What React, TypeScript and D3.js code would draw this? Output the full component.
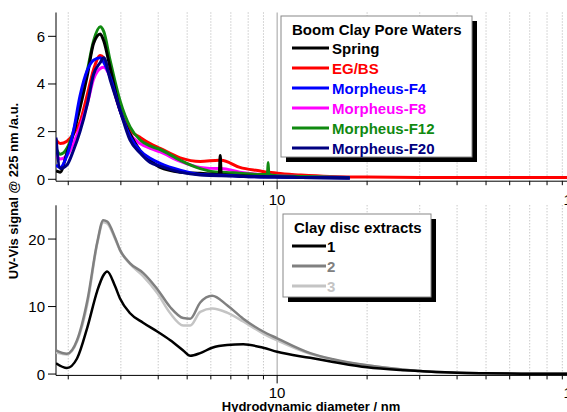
import React from "react";
import * as d3 from "d3";

// ---------- Data ----------
const topX = [1.82, 1.88, 1.98, 2.08, 2.19, 2.32, 2.43, 2.56, 2.63, 2.76, 2.98, 3.22, 3.48, 3.76, 4.06, 4.74, 5.53, 6.4, 6.45, 6.5, 7.5, 8.8, 9.28, 9.33, 9.38, 10, 12, 15, 17.5];
const springY = [0.35, 0.3, 1.1, 1.9, 3.0, 4.4, 5.7, 6.1, 5.8, 4.7, 2.9, 1.9, 1.2, 0.8, 0.5, 0.3, 0.25, 0.2, 1.0, 0.2, 0.15, 0.12, 0.11, 0.11, 0.11, 0.1, 0.08, 0.06, 0.05];
const egbsY = [1.65, 1.5, 1.6, 1.9, 2.4, 3.6, 4.6, 5.2, 5.1, 4.3, 2.9, 2.05, 1.76, 1.5, 1.3, 0.9, 0.75, 0.8, 0.8, 0.8, 0.5, 0.35, 0.3, 0.3, 0.3, 0.25, 0.18, 0.12, 0.1];
const egbsTailX = [20, 30, 50, 100];
const egbsTailY = [0.1, 0.08, 0.08, 0.07];
const f4Y = [0.6, 0.5, 1.0, 2.0, 3.5, 4.6, 5.0, 5.1, 4.9, 4.3, 2.9, 1.8, 1.2, 0.88, 0.67, 0.38, 0.2, 0.17, 0.17, 0.17, 0.13, 0.1, 0.1, 0.1, 0.1, 0.1, 0.08, 0.06, 0.05];
const f8Y = [1.0, 0.85, 1.0, 1.5, 2.2, 3.2, 4.2, 4.65, 4.7, 4.3, 2.9, 1.9, 1.5, 1.3, 1.15, 0.75, 0.5, 0.45, 0.45, 0.45, 0.3, 0.2, 0.18, 0.18, 0.18, 0.15, 0.12, 0.1, 0.08];
const f12Y = [1.3, 1.05, 1.3, 2.0, 3.2, 4.6, 5.8, 6.4, 6.2, 5.0, 3.3, 2.2, 1.65, 1.4, 1.25, 0.8, 0.45, 0.3, 0.3, 0.3, 0.25, 0.2, 0.2, 0.7, 0.2, 0.15, 0.12, 0.1, 0.08];
const f20Y = [1.75, 0.45, 0.6, 1.2, 2.0, 3.2, 4.4, 4.9, 5.1, 4.2, 2.9, 1.64, 1.1, 0.7, 0.55, 0.3, 0.18, 0.15, 0.15, 0.15, 0.12, 0.1, 0.1, 0.1, 0.1, 0.1, 0.08, 0.06, 0.05];

const botX = [1.82, 1.98, 2.14, 2.32, 2.5, 2.62, 2.7, 2.87, 2.98, 3.22, 3.56, 3.97, 4.39, 4.85, 5.12, 5.53, 6.06, 6.8, 7.7, 8.98, 10, 12.9, 15.4, 20, 25.8, 30, 40, 50, 70, 100];
const disc1Y = [1.6, 0.9, 2.3, 7.0, 12.3, 14.6, 15.2, 13.0, 11.2, 9.0, 7.6, 6.3, 5.0, 3.5, 2.7, 3.1, 3.9, 4.3, 4.4, 3.9, 3.3, 2.4, 1.8, 1.0, 0.6, 0.45, 0.2, 0.12, 0.05, 0.03];
const disc2Y = [3.5, 3.0, 5.0, 11.0, 19.5, 22.8, 22.6, 20.2, 18.4, 16.4, 15.0, 12.6, 9.9, 8.3, 8.2, 10.6, 11.6, 10.2, 8.2, 6.3, 5.3, 3.1, 2.2, 1.3, 0.7, 0.45, 0.2, 0.12, 0.05, 0.03];
const disc3Y = [3.2, 2.9, 4.8, 10.5, 19.3, 22.5, 22.3, 20.0, 18.3, 16.3, 14.5, 12.0, 9.0, 7.2, 7.2, 9.2, 9.7, 9.1, 7.8, 6.0, 5.0, 3.0, 2.1, 1.3, 0.7, 0.45, 0.2, 0.12, 0.05, 0.03];

const topLegend = ["Spring", "EG/BS", "Morpheus-F4", "Morpheus-F8", "Morpheus-F12", "Morpheus-F20"];
const topColors = ["#000000", "#ff0000", "#0000ff", "#ff00ff", "#108a10", "#000080"];
const botLegend = ["1", "2", "3"];
const botColors = ["#000000", "#808080", "#c4c4c4"];

const topYTicks = [0, 2, 4, 6];
const botYTicks = [0, 10, 20];
const minorX = [2, 3, 4, 5, 6, 7, 8, 9, 20, 30, 40, 50, 60, 70, 80, 90];
const majorX = [10, 100];

// ---------- Layout ----------
const W = 567, H = 412;
const left = 56, right = 576;
const x = d3.scaleLog().domain([1.82, 100]).range([left, right]);
const yTop = d3.scaleLinear().domain([-0.08, 7]).range([181.2, 12.5]);
const yBot = d3.scaleLinear().domain([-0.2, 25]).range([375.4, 205.3]);

const font = "Liberation Sans, Arial, Helvetica, sans-serif";

function mkLine(xs: number[], ys: number[], ys2: d3.ScaleLinear<number, number>) {
  const pts = xs.map((v, i) => [v, ys[i]] as [number, number]);
  return d3.line<[number, number]>().x(d => x(d[0])).y(d => ys2(d[1])).curve(d3.curveMonotoneX)(pts) || "";
}

function Panel({ y, ticks, top }: { y: d3.ScaleLinear<number, number>; ticks: number[]; top: boolean }) {
  const [y0, y1] = y.range();
  const labelY = top ? 205 : 398;
  return (
    <g>
      {minorX.map(v => (
        <line key={"g" + v} x1={x(v)} x2={x(v)} y1={y1} y2={y0} stroke="#b0b0b0" strokeWidth={1} strokeDasharray="1,2" />
      ))}
      {majorX.map(v => (
        <line key={"G" + v} x1={x(v)} x2={x(v)} y1={y1} y2={y0} stroke="#a0a0a0" strokeWidth={1} />
      ))}
      {/* axes */}
      <line x1={left} x2={right} y1={y0} y2={y0} stroke="#000" strokeWidth={1} />
      <line x1={left} x2={left} y1={y1} y2={y0} stroke="#000" strokeWidth={1} />
      {minorX.map(v => (
        <line key={"t" + v} x1={x(v)} x2={x(v)} y1={y0} y2={y0 + 4} stroke="#000" strokeWidth={1} />
      ))}
      {majorX.map(v => (
        <g key={"T" + v}>
          <line x1={x(v)} x2={x(v)} y1={y0} y2={y0 + 8} stroke="#000" strokeWidth={1} />
          <text x={x(v)} y={labelY} textAnchor="middle" fontFamily={font} fontSize={15} fill="#000">{v}</text>
        </g>
      ))}
      {ticks.map(v => (
        <g key={"y" + v}>
          <line x1={left - 8} x2={left} y1={y(v)} y2={y(v)} stroke="#000" strokeWidth={1} />
          <text x={45} y={y(v) + 5.5} textAnchor="end" fontFamily={font} fontSize={15} fill="#000">{v}</text>
        </g>
      ))}
    </g>
  );
}

function Legend({ bx, by, bw, bh, title, items, colors, rowY, lx1, lx2, tx }: any) {
  return (
    <g fontFamily={font} fontWeight="bold" fontSize={15}>
      <rect x={bx + 5} y={by + 5} width={bw} height={bh} fill="#000" />
      <rect x={bx} y={by} width={bw} height={bh} fill="#fff" stroke="#888" strokeWidth={1} />
      <text x={bx + 11} y={by + 18.5} fill="#000">{title}</text>
      {items.map((s: string, i: number) => (
        <g key={s}>
          <line x1={lx1} x2={lx2} y1={rowY[i]} y2={rowY[i]} stroke={colors[i]} strokeWidth={3} />
          <text x={tx} y={rowY[i] + 5.5} fill={colors[i]}>{s}</text>
        </g>
      ))}
    </g>
  );
}

export default function App() {
  const topSeries = [
    { k: "red", d: mkLine([...topX, ...egbsTailX], [...egbsY, ...egbsTailY], yTop), c: topColors[1] },
    { k: "mag", d: mkLine(topX, f8Y, yTop), c: topColors[3] },
    { k: "green", d: mkLine(topX, f12Y, yTop), c: topColors[4] },
    { k: "black", d: mkLine(topX, springY, yTop), c: topColors[0] },
    { k: "blue", d: mkLine(topX, f4Y, yTop), c: topColors[2] },
    { k: "navy", d: mkLine(topX, f20Y, yTop), c: topColors[5] },
  ];
  const botSeries = [
    { k: "d3", d: mkLine(botX, disc3Y, yBot), c: botColors[2] },
    { k: "d2", d: mkLine(botX, disc2Y, yBot), c: botColors[1] },
    { k: "d1", d: mkLine(botX, disc1Y, yBot), c: botColors[0] },
  ];
  return (
    <svg width={W} height={H} style={{ position: "absolute", left: 0, top: 0, background: "#fff" }}>
      <defs>
        <clipPath id="cTop"><rect x={left} y={yTop.range()[1]} width={right - left} height={yTop.range()[0] - yTop.range()[1]} /></clipPath>
        <clipPath id="cBot"><rect x={left} y={yBot.range()[1]} width={right - left} height={yBot.range()[0] - yBot.range()[1]} /></clipPath>
      </defs>
      <rect x={0} y={0} width={W} height={H} fill="#fff" />
      <Panel y={yTop} ticks={topYTicks} top={true} />
      <Panel y={yBot} ticks={botYTicks} top={false} />
      <g clipPath="url(#cTop)">
        {topSeries.map(s => (
          <path key={s.k} d={s.d} fill="none" stroke={s.c} strokeWidth={3} strokeLinejoin="round" />
        ))}
      </g>
      <g clipPath="url(#cBot)">
        {botSeries.map(s => (
          <path key={s.k} d={s.d} fill="none" stroke={s.c} strokeWidth={2.5} strokeLinejoin="round" />
        ))}
      </g>
      <Legend bx={281} by={16} bw={191} bh={141} title="Boom Clay Pore Waters" items={topLegend} colors={topColors}
        rowY={[48, 68, 88, 108, 128, 148]} lx1={292} lx2={329} tx={332} />
      <Legend bx={283} by={214} bw={148} bh={83} title="Clay disc extracts" items={botLegend} colors={botColors}
        rowY={[246, 266, 286]} lx1={292} lx2={326} tx={327} />
      <text transform="translate(18,191) rotate(-90)" textAnchor="middle" fontFamily={font} fontWeight="bold" fontSize={13} fill="#000">
        UV-Vis signal @ 225 nm /a.u.
      </text>
      <text x={311} y={411} textAnchor="middle" fontFamily={font} fontWeight="bold" fontSize={13} fill="#000">
        Hydrodynamic diameter / nm
      </text>
    </svg>
  );
}
